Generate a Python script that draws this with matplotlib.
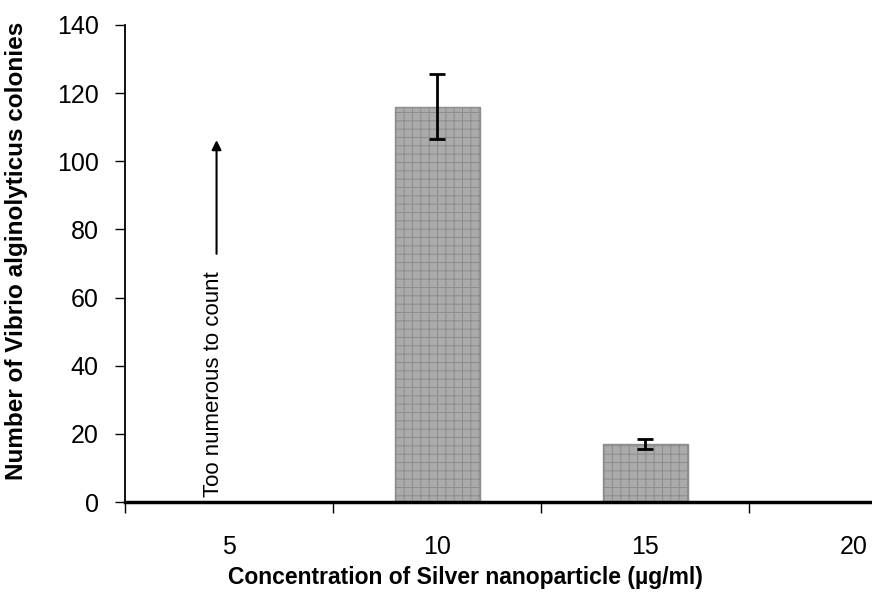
import matplotlib
matplotlib.use("Agg")
import matplotlib.pyplot as plt
import numpy as np

# data
concentrations = ["5", "10", "15", "20"]
colonies = [np.nan, 116, 17, np.nan]
errors = [0, 9.5, 1.5, 0]
arrow_start = 72
arrow_value = 107
arrow_text = "Too numerous to count"

plt.rcParams['font.family'] = ['Liberation Sans', 'DejaVu Sans']
plt.rcParams['hatch.color'] = '#d0d0d0'
plt.rcParams['hatch.linewidth'] = 0.7

fig = plt.figure(figsize=(8.72, 5.92), dpi=100)
ax = fig.add_axes([0.1433, 0.152, 0.857, 0.806])

x = np.arange(len(concentrations))
vals = np.array(colonies, dtype=float)
mask = ~np.isnan(vals)

ax.bar(x[mask], vals[mask], width=0.41, color='#ababab', edgecolor='#8c8c8c',
       linewidth=1.0, hatch='++', zorder=2)
ax.errorbar(x[mask], vals[mask], yerr=np.array(errors)[mask], fmt='none',
            ecolor='black', elinewidth=2, capsize=6, capthick=2, zorder=3)

# arrow for the uncounted plate
ax.annotate("", xy=(-0.06, arrow_value), xytext=(-0.06, arrow_start),
            arrowprops=dict(arrowstyle='-|>', color='black', lw=1.5,
                            mutation_scale=14), zorder=3)
ax.text(-0.075, 1.5, arrow_text, rotation=90, ha='center', va='bottom',
        fontsize=16)

ax.set_yticks(np.arange(0, 141, 20))
ax.tick_params(axis='y', direction='out', length=7, width=1, labelsize=18,
               pad=12, colors='black')

# ticks at category boundaries, labels at centres
ax.set_xticks(np.arange(-0.5, 3.6, 1))
ax.set_xticklabels([])
ax.tick_params(axis='x', which='major', direction='out', length=8, width=1)
ax.set_xticks(x, minor=True)
ax.set_xticklabels(concentrations, minor=True)
ax.tick_params(axis='x', which='minor', length=0, labelsize=18, pad=24)

ax.set_xlim(-0.5, 3.09)
ax.set_ylim(0, 140)

for side in ['top', 'right']:
    ax.spines[side].set_visible(False)
ax.spines['bottom'].set_linewidth(2.5)
ax.spines['left'].set_linewidth(1.3)

ax.set_xlabel("Concentration of Silver nanoparticle (µg/ml)",
              fontweight='bold', fontsize=16.5)
ax.set_ylabel("Number of Vibrio alginolyticus colonies",
              fontweight='bold', fontsize=17.5)
ax.xaxis.set_label_coords(0.455, -0.135)
ax.yaxis.set_label_coords(-0.13, 0.527)

fig.savefig("out.png", dpi=100)
